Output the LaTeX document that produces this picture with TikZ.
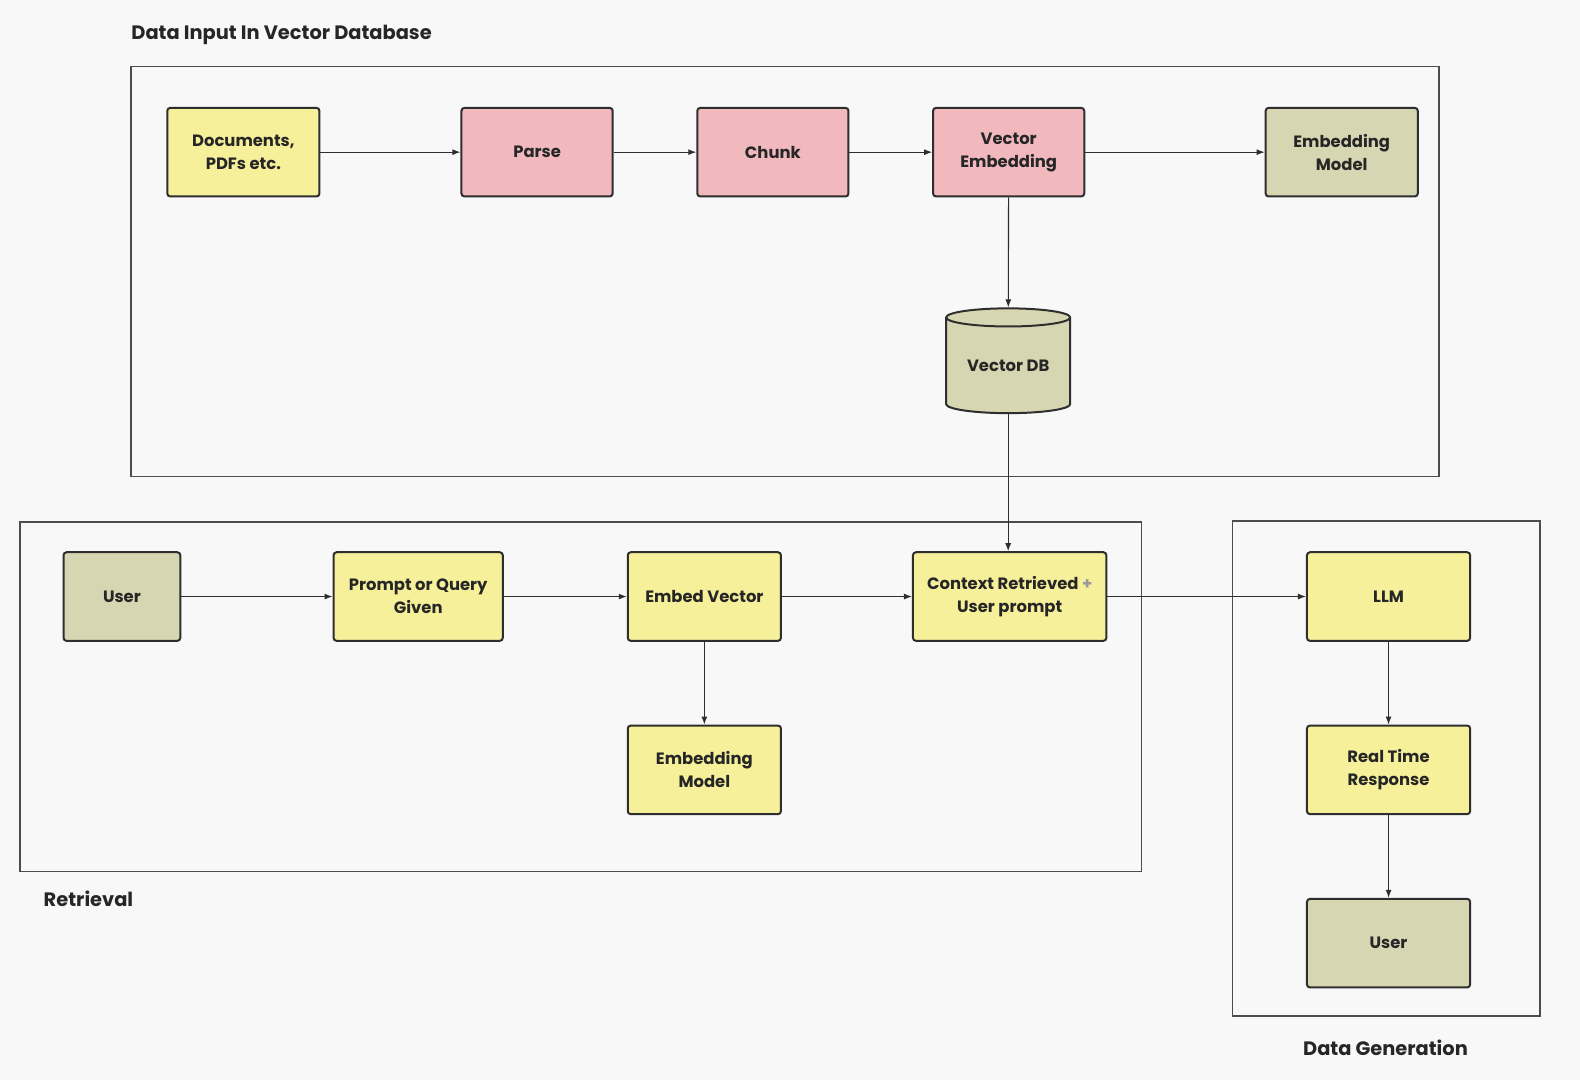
\documentclass[tikz,border=0pt]{standalone}
\usepackage{fontspec}
\setmainfont{Poppins}
\usetikzlibrary{shapes.geometric,arrows.meta}

\definecolor{bgcol}{HTML}{F8F8F8}
\definecolor{yellowbox}{HTML}{F6F09A}
\definecolor{pinkbox}{HTML}{F1B9BE}
\definecolor{olivebox}{HTML}{D7D6B2}
\definecolor{edgecol}{HTML}{2E2E2E}

\tikzset{
  box/.style={draw=edgecol, line width=1pt, rounded corners=1.5pt,
    minimum height=44.3pt, inner sep=0pt, align=center,
    font=\fontsize{8.2}{11.6}\selectfont\bfseries, text=black!85},
  frame/.style={draw=black!70, line width=0.8pt},
  title/.style={font=\fontsize{9.7}{12}\selectfont\bfseries, text=black!85, inner sep=0pt},
  flow/.style={draw=edgecol, line width=0.55pt, -{Latex[length=4pt,width=3pt]}}
}

\begin{document}
\begin{tikzpicture}[x=0.50383pt, y=-0.50383pt]
\useasboundingbox[fill=bgcol] (0,0) rectangle (1568,1072);
% frames
\draw[frame] (130,66) rectangle (1428,473);
\draw[frame] (20,518) rectangle (1133,865);
\draw[frame] (1223,517) rectangle (1528,1008);
\node[title, anchor=west] (ttl1) at (130,35) {Data Input In Vector Database};
\node[title, anchor=west] (ttl2) at (43,892) {Retrieval};
\node[title] (ttl3) at (1375,1040) {Data Generation};
% data input
\node[box, fill=yellowbox, minimum width=76.1pt] (docs) at (241.5,151) {Documents,\\PDFs etc.};
\node[box, fill=pinkbox, minimum width=75.6pt] (parse) at (533,151) {Parse};
\node[box, fill=pinkbox, minimum width=75.6pt] (chunk) at (767,151) {Chunk};
\node[box, fill=pinkbox, minimum width=75.6pt] (vemb) at (1001,151) {Vector\\Embedding};
\node[box, fill=olivebox, minimum width=76.1pt] (emodel) at (1331.5,151) {Embedding\\Model};
\node[box, cylinder, shape border rotate=90, aspect=0.22, rounded corners=0pt,
      fill=olivebox, minimum width=62pt, minimum height=52.4pt] (vdb) at (1000.5,363) {Vector DB};
% retrieval
\node[box, fill=olivebox, minimum width=58.4pt] (user) at (121,592) {User};
\node[box, fill=yellowbox, minimum width=84.6pt] (prompt) at (415,592) {Prompt or Query\\Given};
\node[box, fill=yellowbox, minimum width=76.6pt] (embvec) at (699,592) {Embed Vector};
\node[box, fill=yellowbox, minimum width=96.7pt] (ctx) at (1002,592) {Context Retrieved \textcolor{black!40}{+}\\User prompt};
\node[box, fill=yellowbox, minimum width=76.6pt] (emodelb) at (699,764) {Embedding\\Model};
% generation
\node[box, fill=yellowbox, minimum width=81.6pt] (llm) at (1378,592) {LLM};
\node[box, fill=yellowbox, minimum width=81.6pt] (rtr) at (1378,764) {Real Time\\Response};
\node[box, fill=olivebox, minimum width=81.6pt] (userb) at (1378,936) {User};
% arrows
\draw[flow] (docs) -- (parse);
\draw[flow] (parse) -- (chunk);
\draw[flow] (chunk) -- (vemb);
\draw[flow] (vemb) -- (emodel);
\draw[flow] (vemb) -- (vdb);
\draw[flow] (vdb) -- (vdb |- ctx.north);
\draw[flow] (user) -- (prompt);
\draw[flow] (prompt) -- (embvec);
\draw[flow] (embvec) -- (ctx);
\draw[flow] (embvec) -- (emodelb);
\draw[flow] (ctx) -- (llm);
\draw[flow] (llm) -- (rtr);
\draw[flow] (rtr) -- (userb);
\end{tikzpicture}
\end{document}
